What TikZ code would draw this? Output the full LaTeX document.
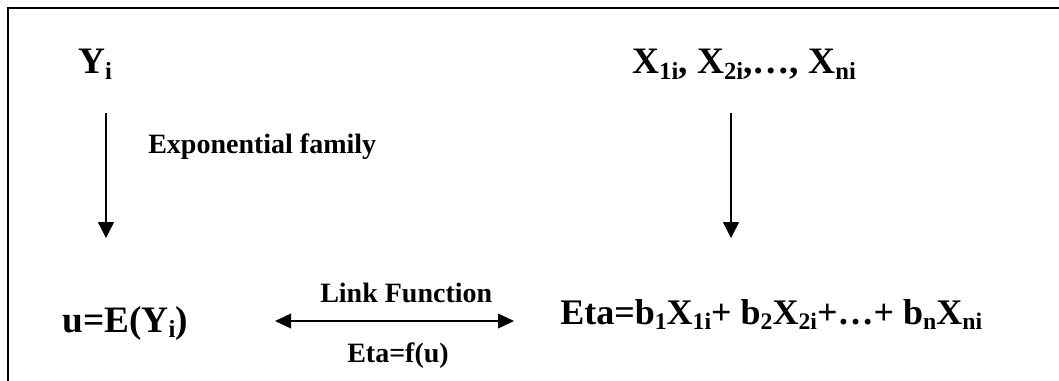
\documentclass[tikz,border=0pt]{standalone}
\usepackage{fontspec}
\setmainfont{Liberation Serif}
\usetikzlibrary{arrows.meta}
% lowered, reduced-size subscript in the running text font
\newcommand\lowsub[1]{\raisebox{-0.16em}{\scalebox{0.66}{#1}}}
\begin{document}
\begin{tikzpicture}[x=0.75pt,y=-0.75pt,
  bigtext/.style={font=\fontsize{28}{30}\selectfont\bfseries, inner sep=0pt, anchor=base west},
  eqtext/.style={font=\fontsize{27}{30}\selectfont\bfseries, inner sep=0pt, anchor=base west},
  labeltext/.style={font=\fontsize{21}{24}\selectfont\bfseries, inner sep=0pt, anchor=base west},
  flow/.style={line width=1.1pt, -{Triangle[width=12pt,length=12pt]}},
  link/.style={line width=1.1pt, {Triangle[width=11pt,length=12pt]}-{Triangle[width=11pt,length=12pt]}}]
  \clip (0,0) rectangle (1059,381);
  % open frame: only its top and left sides fall inside the page
  \draw[line width=1.7pt] (8,420) -- (8,8) -- (1100,8);

  % variables
  \node[bigtext] (yi) at (78,74) {Y\lowsub{i}};
  \node[bigtext] (xs) at (632,74) {X\lowsub{1i}, X\lowsub{2i},…, X\lowsub{ni}};

  % mean and linear predictor
  \node[bigtext] (mu) at (62,332) {u=E(Y\lowsub{i})};
  \node[eqtext] (eta) at (560,324) {Eta=b\lowsub{1}X\lowsub{1i}+ b\lowsub{2}X\lowsub{2i}+…+ b\lowsub{n}X\lowsub{ni}};

  % labels
  \node[labeltext] (expfam) at (148,154) {Exponential family};
  \node[labeltext] (linkf) at (320,302) {Link Function};
  \node[labeltext] (etaf) at (347,362) {Eta=f(u)};

  % connector end points
  \coordinate (ytop) at (106,113);
  \coordinate (ybot) at (106,238);
  \coordinate (xtop) at (731,113);
  \coordinate (xbot) at (731,238);
  \coordinate (lleft) at (275,321);
  \coordinate (lright) at (514,321);

  \draw[flow] (ytop) -- (ybot);
  \draw[flow] (xtop) -- (xbot);
  \draw[link] (lleft) -- (lright);
\end{tikzpicture}
\end{document}
